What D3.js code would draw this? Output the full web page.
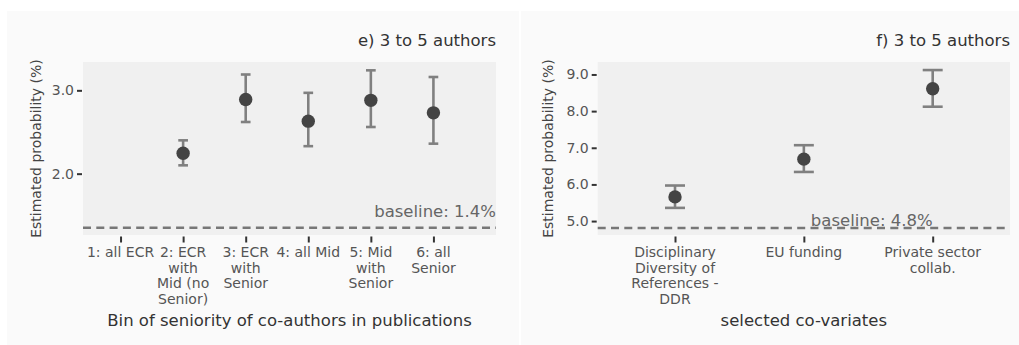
<!DOCTYPE html>
<html>
<head>
<meta charset="utf-8">
<script src="https://cdn.jsdelivr.net/npm/d3@7"></script>
<style>
  html, body { margin: 0; padding: 0; background: #ffffff; }
  svg { display: block; font-family: "DejaVu Sans", sans-serif; }
</style>
</head>
<body>
<svg id="fig" width="1019" height="345"></svg>
<script>
// Panel e: seniority bins of co-authors
const seniorityBins = [
  "1: all ECR",
  "2: ECR\nwith\nMid (no\nSenior)",
  "3: ECR\nwith\nSenior",
  "4: all Mid",
  "5: Mid\nwith\nSenior",
  "6: all\nSenior"
];
const seniorityEst = [null, 2.245, 2.89, 2.63, 2.88, 2.73];
const seniorityLow = [null, 2.10, 2.62, 2.33, 2.56, 2.36];
const seniorityHigh = [null, 2.40, 3.19, 2.97, 3.24, 3.16];
const seniorityBaseline = 1.35;
const seniorityTicks = [2.0, 3.0];

// Panel f: selected co-variates
const covariates = [
  "Disciplinary\nDiversity of\nReferences -\nDDR",
  "EU funding",
  "Private sector\ncollab."
];
const covariateEst = [5.66, 6.69, 8.61];
const covariateLow = [5.36, 6.34, 8.12];
const covariateHigh = [5.97, 7.07, 9.12];
const covariateBaseline = 4.81;
const covariateTicks = [5.0, 6.0, 7.0, 8.0, 9.0];

const svg = d3.select("#fig");
const fmt = d3.format(".1f");

function drawPanel(cfg) {
  const g = svg.append("g");
  // panel background
  g.append("rect")
    .attr("x", cfg.panel[0]).attr("y", cfg.panel[1])
    .attr("width", cfg.panel[2]).attr("height", cfg.panel[3])
    .attr("fill", "#fafafa");

  const x = d3.scaleLinear().domain(cfg.xDomain).range([cfg.left, cfg.right]);
  const y = d3.scaleLinear().domain(cfg.yDomain).range([cfg.bottom, cfg.top]);

  // plot area
  g.append("rect")
    .attr("x", cfg.left).attr("y", cfg.top)
    .attr("width", cfg.right - cfg.left).attr("height", cfg.bottom - cfg.top)
    .attr("fill", "#f0f0f0");

  // y axis
  const yAxis = g.append("g")
    .attr("transform", `translate(${cfg.left - 1},0)`)
    .call(d3.axisLeft(y).tickValues(cfg.yTicks).tickFormat(fmt).tickSize(5).tickPadding(3));
  yAxis.select(".domain").remove();
  yAxis.selectAll(".tick line").attr("stroke", "#333").attr("stroke-width", 2);
  yAxis.selectAll(".tick text").attr("fill", "#555").attr("font-size", 14)
    .attr("font-family", "DejaVu Sans");

  // x axis
  const idx = cfg.labels.map((d, i) => i);
  const xAxis = g.append("g")
    .attr("transform", `translate(0,${cfg.bottom + 1.5})`)
    .call(d3.axisBottom(x).tickValues(idx).tickFormat("").tickSize(6));
  xAxis.select(".domain").remove();
  xAxis.selectAll(".tick line").attr("stroke", "#333").attr("stroke-width", 2);

  const lbl = g.append("g");
  cfg.labels.forEach((s, i) => {
    const t = lbl.append("text")
      .attr("x", x(i)).attr("y", cfg.bottom + 22)
      .attr("text-anchor", "middle")
      .attr("fill", "#555").attr("font-size", 14);
    s.split("\n").forEach((line, k) => {
      t.append("tspan").attr("x", x(i)).attr("dy", k === 0 ? 0 : 15.6).text(line);
    });
  });

  // baseline
  g.append("line")
    .attr("x1", cfg.left).attr("x2", cfg.right)
    .attr("y1", y(cfg.baseline)).attr("y2", y(cfg.baseline))
    .attr("stroke", "#777").attr("stroke-width", 2.5)
    .attr("stroke-dasharray", "8,5.3");
  g.append("text")
    .attr("x", x(cfg.baseLabelAt)).attr("y", y(cfg.baseline) - cfg.baseLabelLift)
    .attr("text-anchor", "end").attr("fill", "#666").attr("font-size", 16.5)
    .text("baseline: " + fmt(cfg.baseline) + "%");

  // error bars and points
  const step = x(1) - x(0);
  const cap = step * 0.155;
  const data = cfg.est.map((v, i) => ({ i, v, lo: cfg.low[i], hi: cfg.high[i] }))
    .filter(d => d.v != null);
  const eb = g.append("g").attr("stroke", "#808080").attr("stroke-width", 2.6).attr("fill", "none");
  data.forEach(d => {
    eb.append("line").attr("x1", x(d.i)).attr("x2", x(d.i)).attr("y1", y(d.lo)).attr("y2", y(d.hi));
    eb.append("line").attr("x1", x(d.i) - cap / 2).attr("x2", x(d.i) + cap / 2).attr("y1", y(d.lo)).attr("y2", y(d.lo));
    eb.append("line").attr("x1", x(d.i) - cap / 2).attr("x2", x(d.i) + cap / 2).attr("y1", y(d.hi)).attr("y2", y(d.hi));
  });
  g.append("g").selectAll("circle").data(data).join("circle")
    .attr("cx", d => x(d.i)).attr("cy", d => y(d.v)).attr("r", 6.7)
    .attr("fill", "#444");

  // titles
  g.append("text")
    .attr("x", cfg.right).attr("y", 45.5)
    .attr("text-anchor", "end").attr("fill", "#333").attr("font-size", 16.5)
    .text(cfg.title);
  g.append("text")
    .attr("transform", `translate(${cfg.yLabelX},${(cfg.top + cfg.bottom) / 2}) rotate(-90)`)
    .attr("text-anchor", "middle").attr("fill", "#444").attr("font-size", 14)
    .text("Estimated probability (%)");
  g.append("text")
    .attr("x", (cfg.left + cfg.right) / 2).attr("y", 326)
    .attr("text-anchor", "middle").attr("fill", "#333").attr("font-size", 16.5)
    .text(cfg.xTitle);
}

drawPanel({
  panel: [7, 11, 512, 334],
  left: 83, right: 496, top: 62, bottom: 235,
  xDomain: [-0.6, 6.0], yDomain: [1.264, 3.34],
  yTicks: seniorityTicks, labels: seniorityBins,
  est: seniorityEst, low: seniorityLow, high: seniorityHigh,
  baseline: seniorityBaseline, baseLabelAt: 6.0, baseLabelLift: 11,
  title: "e) 3 to 5 authors", xTitle: "Bin of seniority of co-authors in publications",
  yLabelX: 41
});

drawPanel({
  panel: [521, 11, 498, 334],
  left: 597.7, right: 1010, top: 62, bottom: 235,
  xDomain: [-0.6, 2.6], yDomain: [4.62, 9.34],
  yTicks: covariateTicks, labels: covariates,
  est: covariateEst, low: covariateLow, high: covariateHigh,
  baseline: covariateBaseline, baseLabelAt: 2, baseLabelLift: 2,
  title: "f) 3 to 5 authors", xTitle: "selected co-variates",
  yLabelX: 553
});
</script>
</body>
</html>
